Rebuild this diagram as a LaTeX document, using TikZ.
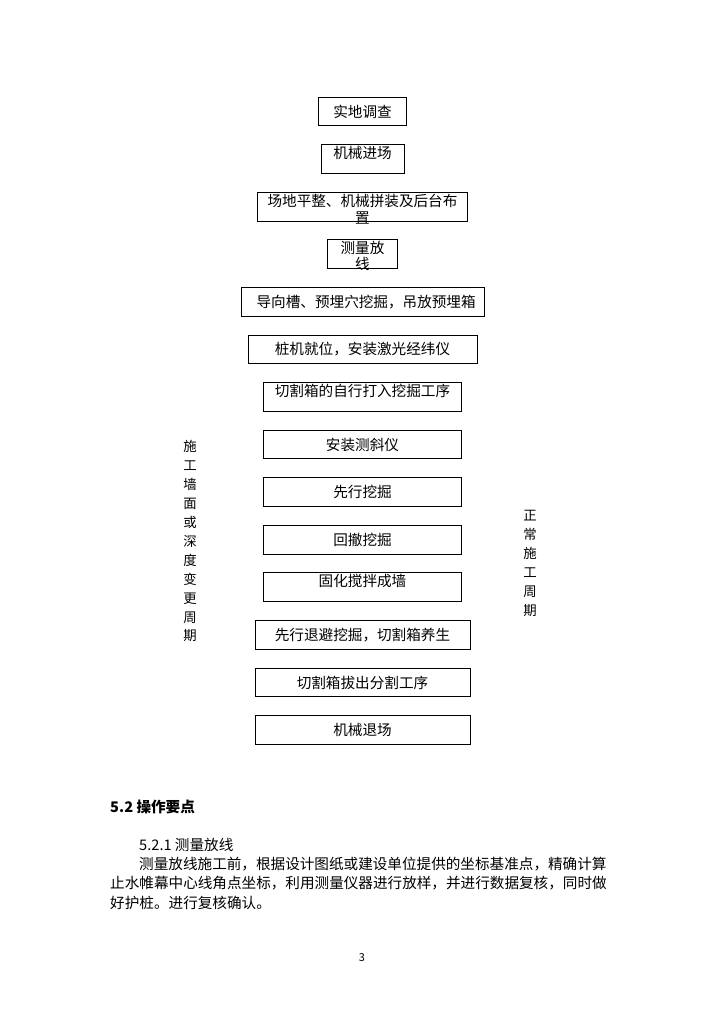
\documentclass[tikz,border=0pt]{standalone}
\usepackage{fontspec}
\setmainfont{Noto Sans CJK SC}
\usetikzlibrary{positioning}
\XeTeXlinebreaklocale "zh"
\XeTeXlinebreakskip=0pt plus 2pt

\begin{document}
\begin{tikzpicture}[
    x=0.8218pt,y=-0.8218pt,
    node distance=14.7pt,
    every node/.style={font=\fontsize{12}{14}\selectfont,align=center},
    box/.style={draw,line width=0.8pt,minimum height=23.6pt,inner sep=0pt},
    toptxt/.style={anchor=north,inner sep=1.5pt},
    side/.style={font=\fontsize{11}{15.6}\selectfont,inner sep=0pt},
    para/.style={anchor=west,inner sep=0pt}
]
\useasboundingbox (0,0) rectangle (724,1024);
\node[box,minimum width=73.1pt] (s1) at (362.5,111.5) {实地调查};
\node[box,minimum width=68.2pt,below=of s1] (s2) {};
\node[box,minimum width=171.8pt,below=of s2] (s3) {};
\node[box,minimum width=58.3pt,below=of s3] (s4) {};
\node[box,minimum width=199.7pt,below=of s4] (s5) {\hspace*{6pt}导向槽、预埋穴挖掘，吊放预埋箱};
\node[box,minimum width=188.2pt,below=of s5] (s6) {桩机就位，安装激光经纬仪};
\node[box,minimum width=163.5pt,below=of s6] (s7) {};
\node[box,minimum width=163.5pt,below=of s7] (s8) {安装测斜仪};
\node[box,minimum width=163.5pt,below=of s8] (s9) {先行挖掘};
\node[box,minimum width=163.5pt,below=of s9] (s10) {回撤挖掘};
\node[box,minimum width=163.5pt,below=of s10] (s11) {};
\node[box,minimum width=176.7pt,below=of s11] (s12) {先行退避挖掘，切割箱养生};
\node[box,minimum width=176.7pt,below=of s12] (s13) {切割箱拔出分割工序};
\node[box,minimum width=176.7pt,below=of s13] (s14) {机械退场};
\node[toptxt] (t2) at (s2.north) {机械进场};
\node[toptxt,font=\fontsize{12}{14}\selectfont] (t3) at (s3.north) {场地平整、机械拼装及后台布\\置};
\node[toptxt,font=\fontsize{12}{13.1}\selectfont] (t4) at (s4.north) {测量放\\线};
\node[toptxt] (t7) at (s7.north) {切割箱的自行打入挖掘工序};
\node[toptxt] (t11) at (s11.north) {固化搅拌成墙};
\node[side] (lside) at (190,541) {施\\工\\墙\\面\\或\\深\\度\\变\\更\\周\\期};
\node[side] (rside) at (530,563.5) {正\\常\\施\\工\\周\\期};
\node[para,font=\bfseries\fontsize{12}{14}\selectfont] (h52) at (110,807) {5.2 操作要点};
\node[para] (h521) at (139,845) {5.2.1 测量放线};
\node[para] (p1) at (139,864) {\makebox[387.1pt][s]{测量放线施工前，根据设计图纸或建设单位提供的坐标基准点，精确计算}};
\node[para] (p2) at (110,883) {\makebox[410.9pt][s]{止水帷幕中心线角点坐标，利用测量仪器进行放样，并进行数据复核，同时做}};
\node[para] (p3) at (110,903) {好护桩。进行复核确认。};
\node[font=\fontsize{9}{10}\selectfont] (pg) at (362,958) {3};
\end{tikzpicture}
\end{document}
